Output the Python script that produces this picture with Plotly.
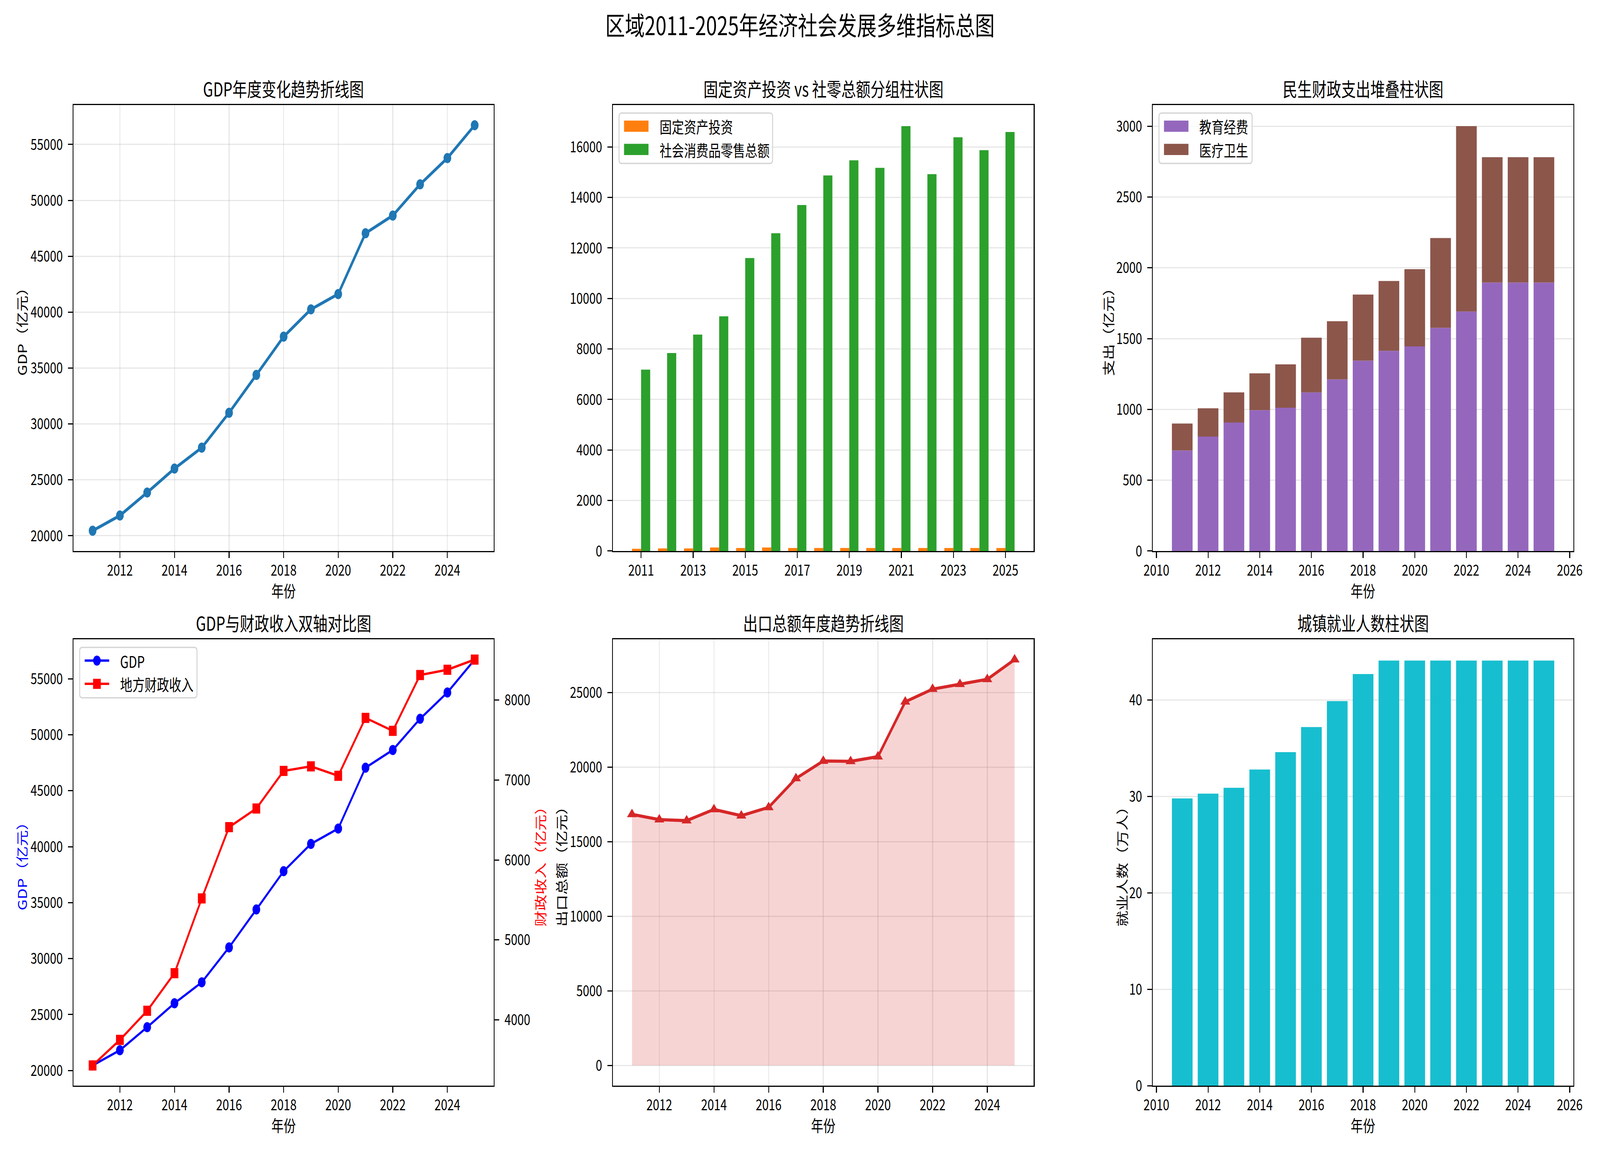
import plotly.graph_objects as go

# ---------------- data ----------------
years = list(range(2011, 2026))
gdp = [20450, 21810, 23870, 26010, 27880, 31000, 34390, 37810, 40250, 41620,
       47060, 48640, 51430, 53780, 56720]
fixed_invest = [90, 105, 105, 140, 120, 140, 120, 120, 120, 120, 120, 120, 120, 120, 120]
retail_sales = [7180, 7840, 8570, 9290, 11600, 12580, 13700, 14870, 15470, 15170,
                16820, 14920, 16380, 15870, 16590]
edu_spend = [710, 808, 907, 995, 1012, 1120, 1212, 1344, 1414, 1445, 1576, 1691, 1896, 1896, 1896]
health_spend = [190, 200, 213, 260, 306, 386, 411, 467, 493, 545, 634, 1309, 885, 885, 885]
fiscal_rev = [3430, 3750, 4114, 4584, 5519, 6410, 6643, 7113, 7170, 7052,
              7776, 7614, 8312, 8378, 8505]
exports = [16840, 16490, 16420, 17170, 16750, 17310, 19250, 20420, 20400, 20710,
           24390, 25240, 25570, 25900, 27220]
employment = [29.8, 30.3, 30.9, 32.8, 34.6, 37.2, 39.9, 42.7, 44.1, 44.1, 44.1, 44.1, 44.1, 44.1, 44.1]

names_invest = ["固定资产投资", "社会消费品零售总额"]
names_spend = ["教育经费", "医疗卫生"]
names_dual = ["GDP", "地方财政收入"]

suptitle = "区域2011-2025年经济社会发展多维指标总图"
titles = ["GDP年度变化趋势折线图", "固定资产投资 vs 社零总额分组柱状图", "民生财政支出堆叠柱状图",
          "GDP与财政收入双轴对比图", "出口总额年度趋势折线图", "城镇就业人数柱状图"]

# ---------------- layout helpers ----------------
W, H = 5366, 2955
FONT = "Noto Sans CJK SC"
COLS = [(218, 1644), (2048, 3476), (3880, 5307)]
ROWS = [(271, 1423), (1651, 2804)]
FS = 41   # base font (10pt @300dpi)
TFS = 39  # tick label font


def fx(p):
    return p / W


def fy(p):
    return 1 - p / H


def pad_range(lo, hi, frac=0.05):
    d = (hi - lo) * frac
    return [lo - d, hi + d]


def axis_style(**kw):
    d = dict(showline=True, linecolor="black", linewidth=3, mirror=True,
             ticks="outside", ticklen=15, tickwidth=3, tickcolor="black",
             tickfont=dict(size=TFS, color="black", family=FONT),
             zeroline=False, showgrid=False,
             gridcolor="rgba(176,176,176,0.3)", gridwidth=3,
             ticklabelstandoff=10, tickformat="d")
    d.update(kw)
    return d


def xaxis_style(**kw):
    return axis_style(ticklabelstandoff=-2, **kw)


fig = go.Figure()

# 1: GDP line
fig.add_trace(go.Scatter(x=years, y=gdp, mode="lines+markers", xaxis="x", yaxis="y",
                         line=dict(color="#1f77b4", width=8),
                         marker=dict(color="#1f77b4", size=26), showlegend=False))

# 2: grouped bars
fig.add_trace(go.Bar(x=years, y=fixed_invest, width=0.35, offset=-0.35, xaxis="x2", yaxis="y2",
                     marker=dict(color="#ff7f0e", line=dict(width=0)), name=names_invest[0],
                     showlegend=False))
fig.add_trace(go.Bar(x=years, y=retail_sales, width=0.35, offset=0, xaxis="x2", yaxis="y2",
                     marker=dict(color="#2ca02c", line=dict(width=0)), name=names_invest[1],
                     showlegend=False))

# 3: stacked bars
fig.add_trace(go.Bar(x=years, y=edu_spend, width=0.8, xaxis="x3", yaxis="y3",
                     marker=dict(color="#9467bd", line=dict(width=0)), name=names_spend[0],
                     showlegend=False))
fig.add_trace(go.Bar(x=years, y=health_spend, base=edu_spend, width=0.8, xaxis="x3", yaxis="y3",
                     marker=dict(color="#8c564b", line=dict(width=0)), name=names_spend[1],
                     showlegend=False))

# 4: dual axis
fig.add_trace(go.Scatter(x=years, y=gdp, mode="lines+markers", xaxis="x4", yaxis="y4",
                         line=dict(color="blue", width=6),
                         marker=dict(color="blue", size=26), name=names_dual[0], showlegend=False))
fig.add_trace(go.Scatter(x=years, y=fiscal_rev, mode="lines+markers", xaxis="x4", yaxis="y7",
                         line=dict(color="red", width=6),
                         marker=dict(color="red", size=26, symbol="square"),
                         name=names_dual[1], showlegend=False))

# 5: exports with fill
fig.add_trace(go.Scatter(x=years, y=exports, mode="none", fill="tozeroy",
                         fillcolor="rgba(214,39,40,0.2)", xaxis="x5", yaxis="y5",
                         showlegend=False))
fig.add_trace(go.Scatter(x=years, y=exports, mode="lines+markers", xaxis="x5", yaxis="y5",
                         line=dict(color="#d62728", width=8),
                         marker=dict(color="#d62728", size=29, symbol="triangle-up"),
                         showlegend=False))

# 6: employment bars
fig.add_trace(go.Bar(x=years, y=employment, width=0.8, xaxis="x6", yaxis="y6",
                     marker=dict(color="#17becf", line=dict(width=0)), showlegend=False))

# ---------------- axes ----------------
line_xr = pad_range(min(years), max(years))
bar2_xr = pad_range(min(years) - 0.35, max(years) + 0.35)
bar_xr = pad_range(min(years) - 0.4, max(years) + 0.4)


def dom_x(c):
    return [fx(COLS[c][0]), fx(COLS[c][1])]


def dom_y(r):
    return [fy(ROWS[r][1]), fy(ROWS[r][0])]


layout = dict(
    width=W, height=H, margin=dict(l=0, r=0, t=0, b=0),
    plot_bgcolor="white", paper_bgcolor="white", barmode="overlay", showlegend=False,
    font=dict(family=FONT, color="black", size=FS),
    xaxis=xaxis_style(domain=dom_x(0), anchor="y", range=line_xr, tick0=2012, dtick=2, showgrid=True),
    yaxis=axis_style(domain=dom_y(0), anchor="x", range=pad_range(min(gdp), max(gdp)),
                     tick0=0, dtick=5000, showgrid=True),
    xaxis2=xaxis_style(domain=dom_x(1), anchor="y2", range=bar2_xr, tick0=2011, dtick=2),
    yaxis2=axis_style(domain=dom_y(0), anchor="x2", range=[0, max(retail_sales) * 1.05],
                      tick0=0, dtick=2000, showgrid=True),
    xaxis3=xaxis_style(domain=dom_x(2), anchor="y3", range=bar_xr, tick0=2010, dtick=2),
    yaxis3=axis_style(domain=dom_y(0), anchor="x3",
                      range=[0, max(e + h for e, h in zip(edu_spend, health_spend)) * 1.05],
                      tick0=0, dtick=500, showgrid=True),
    xaxis4=xaxis_style(domain=dom_x(0), anchor="y4", range=line_xr, tick0=2012, dtick=2),
    yaxis4=axis_style(domain=dom_y(1), anchor="x4", range=pad_range(min(gdp), max(gdp)),
                      tick0=0, dtick=5000),
    yaxis7=axis_style(domain=dom_y(1), anchor="x4", overlaying="y4", side="right", mirror=False,
                      range=pad_range(min(fiscal_rev), max(fiscal_rev)), tick0=0, dtick=1000),
    xaxis5=xaxis_style(domain=dom_x(1), anchor="y5", range=line_xr, tick0=2012, dtick=2, showgrid=True),
    yaxis5=axis_style(domain=dom_y(1), anchor="x5", range=pad_range(0, max(exports)),
                      tick0=0, dtick=5000, showgrid=True),
    xaxis6=xaxis_style(domain=dom_x(2), anchor="y6", range=bar_xr, tick0=2010, dtick=2),
    yaxis6=axis_style(domain=dom_y(1), anchor="x6", range=[0, max(employment) * 1.05],
                      tick0=0, dtick=10, showgrid=True),
)
fig.update_layout(**layout)

# ---------------- text annotations ----------------
ann = []
ann.append(dict(text=suptitle, x=0.5, y=fy(62), font=dict(size=66)))
title_y = [fy(ROWS[0][0] - 44), fy(ROWS[1][0] - 44)]
for i, t in enumerate(titles):
    r, c = divmod(i, 3)
    ann.append(dict(text=t, x=fx((COLS[c][0] + COLS[c][1]) / 2), y=title_y[r], font=dict(size=49)))

xlab_y = [fy(ROWS[0][1] + 101), fy(ROWS[1][1] + 101)]
for (r, c) in [(0, 0), (0, 2), (1, 0), (1, 1), (1, 2)]:
    ann.append(dict(text="年份", x=fx((COLS[c][0] + COLS[c][1]) / 2), y=xlab_y[r], font=dict(size=FS)))

ycent = [fy((ROWS[0][0] + ROWS[0][1]) / 2), fy((ROWS[1][0] + ROWS[1][1]) / 2)]
ylabels = [
    ("GDP（亿元）", 42, 0, "black"),
    ("支出（亿元）", 3727, 0, "black"),
    ("GDP（亿元）", 42, 1, "blue"),
    ("财政收入（亿元）", 1800, 1, "red"),
    ("出口总额（亿元）", 1872, 1, "black"),
    ("就业人数（万人）", 3774, 1, "black"),
]
for t, xp, r, col in ylabels:
    ann.append(dict(text=t, x=fx(xp), y=ycent[r], textangle=-90, font=dict(size=FS, color=col)))

# ---------------- legends (matplotlib-style boxes) ----------------
shapes = []


def text_w(s, size):
    return sum(size * (0.6 if ord(ch) < 128 else 1.0) for ch in s)


def add_legend(col, row, entries):
    left = COLS[col][0] + 21
    top = ROWS[row][0] + 21
    width = 135 + max(text_w(n, FS) for _, _, n in entries) + 17
    height = 130
    right, bottom = left + width, top + height
    r = 9
    path = ("M{a},{b} L{c},{b} Q{d},{b} {d},{e} L{d},{f} Q{d},{g} {c},{g} "
            "L{a},{g} Q{h},{g} {h},{f} L{h},{e} Q{h},{b} {a},{b} Z").format(
        a=fx(left + r), b=fy(top), c=fx(right - r), d=fx(right), e=fy(top + r),
        f=fy(bottom - r), g=fy(bottom), h=fx(left))
    shapes.append(dict(type="path", path=path, xref="paper", yref="paper", layer="above",
                       fillcolor="rgba(255,255,255,0.8)", line=dict(color="#d6d6d6", width=3.5)))
    for i, (kind, color, name) in enumerate(entries):
        yc = top + 34 + 60 * i
        x0, x1 = left + 17, left + 100
        if kind == "rect":
            shapes.append(dict(type="rect", xref="paper", yref="paper", layer="above",
                               x0=fx(x0), x1=fx(x1), y0=fy(yc + 14.5), y1=fy(yc - 14.5),
                               fillcolor=color, line=dict(width=0)))
        else:
            shapes.append(dict(type="line", xref="paper", yref="paper", layer="above",
                               x0=fx(x0), x1=fx(x1), y0=fy(yc), y1=fy(yc),
                               line=dict(color=color, width=6)))
            xm = (x0 + x1) / 2
            shapes.append(dict(type="circle" if kind == "line_o" else "rect",
                               xref="paper", yref="paper", layer="above",
                               x0=fx(xm - 13), x1=fx(xm + 13), y0=fy(yc + 13), y1=fy(yc - 13),
                               fillcolor=color, line=dict(width=0)))
        ann.append(dict(text=name, x=fx(left + 135), y=fy(yc), xanchor="left",
                        font=dict(size=FS)))


add_legend(1, 0, [("rect", "#ff7f0e", names_invest[0]), ("rect", "#2ca02c", names_invest[1])])
add_legend(2, 0, [("rect", "#9467bd", names_spend[0]), ("rect", "#8c564b", names_spend[1])])
add_legend(0, 1, [("line_o", "blue", names_dual[0]), ("line_s", "red", names_dual[1])])

for a in ann:
    a.setdefault("xanchor", "center")
    a.update(xref="paper", yref="paper", showarrow=False, yanchor="middle")
    a["font"].setdefault("family", FONT)
    a["font"].setdefault("color", "black")

fig.update_layout(annotations=ann, shapes=shapes)

# Fit the fixed-size figure into whatever viewport the page is shown in.
post = """
var gd = document.getElementById('{plot_id}');
document.documentElement.style.margin = '0px';
document.documentElement.style.overflow = 'hidden';
document.body.style.margin = '0px';
document.body.style.overflow = 'hidden';
var kx = window.innerWidth / 5366, ky = window.innerHeight / 2955;
if (Math.abs(kx - 1) > 0.001 || Math.abs(ky - 1) > 0.001) {
  gd.style.transformOrigin = '0 0';
  gd.style.transform = 'scale(' + kx + ',' + ky + ')';
}
"""

fig.write_html("out.html", post_script=post,
               config={"displayModeBar": False, "staticPlot": True})
